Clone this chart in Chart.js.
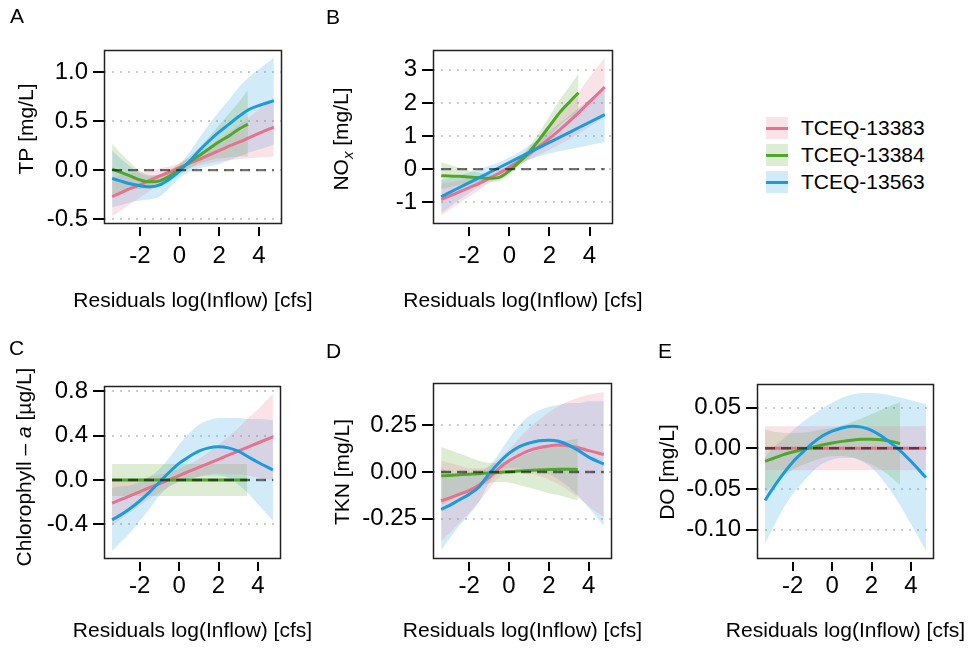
<!DOCTYPE html>
<html><head><meta charset="utf-8">
<script src="https://cdn.jsdelivr.net/npm/chart.js@4.4.1/dist/chart.umd.min.js"></script>
<style>
html,body{margin:0;padding:0;background:#fff;}
body{width:971px;height:651px;position:relative;overflow:hidden;font-family:"Liberation Sans",Arial,Helvetica,sans-serif;color:#000;}
canvas{position:absolute;}
.plab{position:absolute;font-size:21px;line-height:21px;}
.leg{position:absolute;left:766px;height:22px;}
.key{position:absolute;left:0;top:0;width:22px;height:22px;}
.key i{position:absolute;left:0;top:9.5px;width:22px;height:3px;}
.lt{position:absolute;left:35px;top:0;font-size:21px;line-height:22px;white-space:nowrap;}
</style></head><body>
<canvas id="cA" width="330" height="325" style="left:0;top:0"></canvas>
<canvas id="cB" width="325" height="325" style="left:330px;top:0"></canvas>
<canvas id="cC" width="330" height="321" style="left:0;top:330px"></canvas>
<canvas id="cD" width="325" height="321" style="left:330px;top:330px"></canvas>
<canvas id="cE" width="321" height="321" style="left:650px;top:330px"></canvas>
<div class="plab" style="left:10px;top:5px">A</div>
<div class="plab" style="left:326px;top:6px">B</div>
<div class="plab" style="left:9px;top:337px">C</div>
<div class="plab" style="left:326px;top:340px">D</div>
<div class="plab" style="left:658px;top:340px">E</div>
<div id="legend"></div>
<script>
// ---------- data ----------
const seriesNames = ['TCEQ-13383', 'TCEQ-13384', 'TCEQ-13563'];
const xFull  = [-3.4,-3,-2.5,-2,-1.5,-1,-0.5,0,0.5,1,1.5,2,2.5,3,3.5,4,4.76];
const xShort = [-3.4,-3,-2.5,-2,-1.5,-1,-0.5,0,0.5,1,1.5,2,2.5,3,3.45];
const zeroX = [-3.4, 4.76];
const xTicks = [-2, 0, 2, 4];
const xTickLabels = ['-2', '0', '2', '4'];
const xTitle = 'Residuals log(Inflow) [cfs]';

// A: TP
const tpTicks = [-0.5, 0.0, 0.5, 1.0];
const tp13383   = [-0.27,-0.235,-0.19,-0.15,-0.105,-0.06,-0.02,0.025,0.07,0.11,0.155,0.2,0.245,0.285,0.33,0.375,0.44];
const tp13383Lo = [-0.47,-0.42,-0.35,-0.28,-0.21,-0.14,-0.08,-0.02,0.02,0.05,0.07,0.09,0.1,0.11,0.12,0.13,0.14];
const tp13383Hi = [-0.07,-0.05,-0.03,-0.02,0.0,0.02,0.04,0.07,0.12,0.17,0.24,0.31,0.39,0.46,0.54,0.62,0.74];
const tp13384   = [0.01,-0.02,-0.06,-0.1,-0.12,-0.11,-0.06,0.01,0.08,0.15,0.22,0.29,0.35,0.42,0.47];
const tp13384Lo = [-0.25,-0.22,-0.2,-0.19,-0.19,-0.17,-0.12,-0.05,0.02,0.07,0.1,0.12,0.13,0.14,0.14];
const tp13384Hi = [0.27,0.18,0.08,-0.01,-0.05,-0.05,0.0,0.07,0.14,0.23,0.34,0.46,0.58,0.7,0.82];
const tp13563   = [-0.085,-0.11,-0.14,-0.16,-0.17,-0.15,-0.09,-0.01,0.09,0.2,0.3,0.39,0.47,0.55,0.62,0.66,0.71];
const tp13563Lo = [-0.38,-0.36,-0.33,-0.31,-0.3,-0.27,-0.18,-0.08,-0.02,0.02,0.04,0.06,0.1,0.14,0.18,0.21,0.26];
const tp13563Hi = [0.2,0.12,0.04,-0.03,-0.06,-0.05,0.0,0.06,0.18,0.33,0.47,0.6,0.72,0.85,0.95,1.03,1.15];

// B: NOx
const noTicks = [-1, 0, 1, 2, 3];
const no13383   = [-0.92,-0.82,-0.69,-0.56,-0.43,-0.28,-0.12,0.06,0.25,0.46,0.69,0.93,1.18,1.45,1.73,2.03,2.48];
const no13383Lo = [-1.4,-1.24,-1.03,-0.83,-0.63,-0.42,-0.22,-0.04,0.13,0.29,0.44,0.59,0.74,0.91,1.09,1.28,1.59];
const no13383Hi = [-0.44,-0.4,-0.35,-0.29,-0.23,-0.14,-0.02,0.16,0.37,0.63,0.94,1.27,1.62,1.99,2.37,2.78,3.37];
const no13384   = [-0.2,-0.21,-0.22,-0.24,-0.26,-0.28,-0.25,-0.05,0.22,0.52,0.9,1.3,1.7,2.03,2.31];
const no13384Lo = [-0.61,-0.55,-0.48,-0.44,-0.41,-0.4,-0.35,-0.15,0.1,0.36,0.68,1.0,1.32,1.56,1.74];
const no13384Hi = [0.21,0.13,0.04,-0.04,-0.11,-0.16,-0.15,0.05,0.34,0.68,1.12,1.6,2.08,2.5,2.88];
const no13563   = [-0.834,-0.712,-0.56,-0.408,-0.256,-0.104,0.048,0.2,0.352,0.504,0.656,0.808,0.96,1.112,1.264,1.416,1.647];
const no13563Lo = [-1.33,-1.15,-0.93,-0.72,-0.51,-0.3,-0.11,0.05,0.18,0.29,0.39,0.47,0.54,0.6,0.66,0.73,0.82];
const no13563Hi = [-0.33,-0.27,-0.19,-0.1,0.0,0.1,0.21,0.35,0.52,0.71,0.93,1.15,1.38,1.62,1.86,2.11,2.48];

// C: Chlorophyll-a
const chlTicks = [-0.4, 0.0, 0.4, 0.8];
const chl13383   = [-0.21,-0.18,-0.144,-0.107,-0.07,-0.034,0.003,0.04,0.077,0.114,0.15,0.187,0.224,0.26,0.297,0.334,0.39];
const chl13383Lo = [-0.41,-0.36,-0.29,-0.23,-0.17,-0.11,-0.06,-0.02,0.01,0.03,0.05,0.06,0.05,0.05,0.04,0.02,0.0];
const chl13383Hi = [-0.01,0.0,0.01,0.01,0.03,0.05,0.07,0.1,0.14,0.19,0.25,0.32,0.39,0.47,0.56,0.64,0.78];
const chl13384   = [0,0,0,0,0,0,0,0,0,0,0,0,0,0,0];
const chl13384Lo = [-0.145,-0.145,-0.145,-0.145,-0.145,-0.145,-0.145,-0.145,-0.145,-0.145,-0.145,-0.145,-0.145,-0.145,-0.145];
const chl13384Hi = [0.145,0.145,0.145,0.145,0.145,0.145,0.145,0.145,0.145,0.145,0.145,0.145,0.145,0.145,0.145];
const chl13563   = [-0.36,-0.32,-0.26,-0.19,-0.11,-0.02,0.07,0.15,0.21,0.26,0.29,0.3,0.29,0.26,0.21,0.16,0.09];
const chl13563Lo = [-0.64,-0.57,-0.48,-0.37,-0.26,-0.14,-0.06,-0.01,0.01,0.03,0.04,0.04,0.02,-0.04,-0.12,-0.22,-0.37];
const chl13563Hi = [-0.07,-0.06,-0.05,-0.02,0.03,0.1,0.2,0.32,0.42,0.5,0.54,0.56,0.56,0.56,0.55,0.55,0.54];

// D: TKN
const tknTicks = [-0.25, 0.0, 0.25];
const tkn13383   = [-0.155,-0.14,-0.12,-0.1,-0.07,-0.03,0.02,0.06,0.09,0.115,0.13,0.14,0.145,0.14,0.13,0.115,0.094];
const tkn13383Lo = [-0.37,-0.33,-0.275,-0.22,-0.16,-0.09,-0.03,0.0,0.0,-0.005,-0.02,-0.04,-0.065,-0.1,-0.14,-0.185,-0.242];
const tkn13383Hi = [0.06,0.05,0.035,0.02,0.02,0.03,0.07,0.12,0.18,0.235,0.28,0.32,0.355,0.38,0.4,0.415,0.43];
const tkn13384   = [-0.02,-0.018,-0.015,-0.012,-0.009,-0.005,-0.002,0.002,0.005,0.008,0.011,0.013,0.015,0.015,0.014];
const tkn13384Lo = [-0.175,-0.156,-0.13,-0.104,-0.078,-0.06,-0.054,-0.056,-0.07,-0.084,-0.098,-0.114,-0.125,-0.14,-0.152];
const tkn13384Hi = [0.135,0.12,0.1,0.08,0.06,0.05,0.05,0.06,0.08,0.1,0.12,0.14,0.155,0.17,0.18];
const tkn13563   = [-0.2,-0.18,-0.15,-0.12,-0.08,-0.01,0.05,0.1,0.135,0.155,0.168,0.171,0.165,0.145,0.115,0.08,0.043];
const tkn13563Lo = [-0.42,-0.36,-0.29,-0.23,-0.16,-0.06,0.0,0.02,0.02,0.01,0.0,-0.01,-0.04,-0.08,-0.13,-0.19,-0.29];
const tkn13563Hi = [0.02,0.0,-0.01,-0.01,0.0,0.03,0.1,0.18,0.25,0.3,0.33,0.35,0.36,0.37,0.37,0.38,0.38];

// E: DO
const doTicks = [-0.10, -0.05, 0.0, 0.05];
const do13383   = [0,0,0,0,0,0,0,0,0,0,0,0,0,0,0,0,0];
const do13383Lo = [-0.027,-0.027,-0.027,-0.027,-0.027,-0.027,-0.027,-0.027,-0.027,-0.027,-0.027,-0.027,-0.027,-0.027,-0.027,-0.027,-0.027];
const do13383Hi = [0.027,0.027,0.027,0.027,0.027,0.027,0.027,0.027,0.027,0.027,0.027,0.027,0.027,0.027,0.027,0.027,0.027];
const do13384   = [-0.016,-0.0125,-0.008,-0.0045,-0.0015,0.001,0.004,0.0065,0.0085,0.01,0.011,0.0112,0.0105,0.0085,0.0057];
const do13384Lo = [-0.055,-0.0455,-0.035,-0.0265,-0.0205,-0.016,-0.012,-0.0095,-0.0095,-0.011,-0.015,-0.0198,-0.0265,-0.0355,-0.0453];
const do13384Hi = [0.023,0.0205,0.019,0.0185,0.019,0.021,0.023,0.025,0.028,0.032,0.037,0.0422,0.0475,0.0525,0.0567];
const do13563   = [-0.064,-0.049,-0.032,-0.017,-0.005,0.006,0.015,0.021,0.025,0.027,0.026,0.022,0.015,0.006,-0.004,-0.016,-0.036];
const do13563Lo = [-0.117,-0.098,-0.075,-0.056,-0.042,-0.029,-0.019,-0.014,-0.012,-0.012,-0.016,-0.024,-0.037,-0.053,-0.072,-0.093,-0.126];
const do13563Hi = [-0.011,0.0,0.011,0.022,0.032,0.041,0.049,0.056,0.062,0.066,0.068,0.068,0.067,0.065,0.062,0.059,0.054];

// ---------- style ----------
const FONT = '"Liberation Sans", Arial, Helvetica, sans-serif';
const TICK_SIZE = 24;
const lineColors = ['#E8718D', '#4FA62A', '#1A9BDF'];
function rgba(hex, a) { const n = parseInt(hex.slice(1), 16); return `rgba(${(n>>16)&255},${(n>>8)&255},${n&255},${a})`; }
function pts(xs, ys) { return xs.map((x, i) => ({x: x, y: ys[i]})); }

// legend (HTML)
const leg = document.getElementById('legend');
seriesNames.forEach((name, k) => {
  const d = document.createElement('div');
  d.className = 'leg';
  d.style.top = (117 + 27 * k) + 'px';
  d.innerHTML = `<span class="key" style="background:${rgba(lineColors[k],0.2)}"><i style="background:${lineColors[k]}"></i></span><span class="lt">${name}</span>`;
  leg.appendChild(d);
});

function drawYTitle(ctx, cx, cy, segs) {
  ctx.save();
  ctx.translate(cx, cy);
  ctx.rotate(-Math.PI / 2);
  ctx.textBaseline = 'alphabetic';
  ctx.textAlign = 'left';
  ctx.fillStyle = '#000';
  const fontOf = s => (s.it ? 'italic ' : '') + (s.sub ? '15px ' : '21px ') + FONT;
  let total = 0;
  segs.forEach(s => { ctx.font = fontOf(s); s.w = ctx.measureText(s.t).width; total += s.w; });
  let x = -total / 2;
  segs.forEach(s => { ctx.font = fontOf(s); ctx.fillText(s.t, x, 6 + (s.sub ? 5 : 0)); x += s.w; });
  ctx.restore();
}

function makePanel(p) {
  const canvas = document.getElementById(p.id);
  const W = canvas.width, H = canvas.height;
  const datasets = [];
  datasets.push({data: pts(zeroX, [0, 0]), borderColor: 'rgba(0,0,0,0.55)', borderDash: [10, 6], borderWidth: 2.4,
    pointRadius: 0, fill: false, order: 0});
  p.series.forEach((s, k) => {
    datasets.push({label: seriesNames[k], data: pts(s.x, s.y), borderColor: lineColors[k], borderWidth: 3,
      pointRadius: 0, fill: false, cubicInterpolationMode: 'monotone', order: 3 - k});
  });
  p.series.forEach((s, k) => {
    const loIdx = datasets.length;
    datasets.push({data: pts(s.x, s.lo), borderColor: 'rgba(0,0,0,0)', borderWidth: 0, pointRadius: 0,
      fill: false, cubicInterpolationMode: 'monotone', order: 10});
    datasets.push({data: pts(s.x, s.hi), borderColor: 'rgba(0,0,0,0)', borderWidth: 0, pointRadius: 0,
      fill: loIdx, backgroundColor: rgba(lineColors[k], 0.2), cubicInterpolationMode: 'monotone', order: 10});
  });
  const b = p.box;
  new Chart(canvas, {
    type: 'line',
    data: {datasets: datasets},
    options: {
      responsive: false, animation: false, devicePixelRatio: 1,
      layout: {padding: {left: 0, top: b.t, right: W - b.r, bottom: 0}},
      plugins: {legend: {display: false}, tooltip: {enabled: false}},
      scales: {
        x: {
          type: 'linear', min: -3.81, max: 5.17,
          afterBuildTicks: sc => { sc.ticks = xTicks.map(v => ({value: v})); },
          afterFit: sc => { sc.height = H - b.b; },
          ticks: {font: {size: TICK_SIZE, family: FONT}, color: '#000', padding: 256 - b.b - TICK_SIZE * 0.6, maxRotation: 0,
            callback: (v) => xTickLabels[xTicks.indexOf(v)]},
          grid: {display: false, drawTicks: false, drawOnChartArea: false},
          border: {display: false}
        },
        y: {
          type: 'linear', min: p.yMin, max: p.yMax,
          afterBuildTicks: sc => { sc.ticks = p.yTicks.map(v => ({value: v})); },
          afterFit: sc => { sc.width = b.l; },
          ticks: {font: {size: TICK_SIZE, family: FONT}, color: '#000', padding: 5,
            callback: v => v.toFixed(p.dec)},
          grid: {drawOnChartArea: true, drawTicks: true, tickLength: 11, tickWidth: 2, tickColor: '#000',
            color: '#cdcdcd', lineWidth: 2, tickBorderDash: []},
          border: {display: false, dash: [2, 6]}
        }
      }
    },
    plugins: [{
      id: 'deco' + p.id,
      afterDatasetsDraw(chart) {
        const ctx = chart.ctx, a = chart.chartArea, xs = chart.scales.x;
        ctx.save();
        ctx.strokeStyle = '#222'; ctx.lineWidth = 1.5;
        ctx.strokeRect(a.left + 0.5, a.top + 0.5, a.right - a.left - 1, a.bottom - a.top - 1);
        ctx.strokeStyle = '#000'; ctx.lineWidth = 2;
        xTicks.forEach(v => {
          const px = Math.round(xs.getPixelForValue(v));
          ctx.beginPath(); ctx.moveTo(px, a.bottom + 3); ctx.lineTo(px, a.bottom + 12); ctx.stroke();
        });
        ctx.restore();
      },
      afterDraw(chart) {
        const ctx = chart.ctx, a = chart.chartArea;
        ctx.save();
        ctx.font = '21px ' + FONT; ctx.fillStyle = '#000';
        ctx.textAlign = 'center'; ctx.textBaseline = 'middle';
        ctx.fillText(xTitle, (a.left + a.right) / 2, 301);
        ctx.restore();
        drawYTitle(ctx, p.yt[0] - p.L, p.yt[1] - p.T, p.ytSegs.map(s => Object.assign({}, s)));
      }
    }]
  });
}

makePanel({id: 'cA', L: 0, T: 0, box: {l: 104, r: 282, t: 50, b: 224}, yMin: -0.551, yMax: 1.228, yTicks: tpTicks, dec: 1,
  yt: [27, 129], ytSegs: [{t: 'TP [mg/L]'}],
  series: [{x: xFull, y: tp13383, lo: tp13383Lo, hi: tp13383Hi}, {x: xShort, y: tp13384, lo: tp13384Lo, hi: tp13384Hi}, {x: xFull, y: tp13563, lo: tp13563Lo, hi: tp13563Hi}]});
makePanel({id: 'cB', L: 330, T: 0, box: {l: 103, r: 283, t: 50, b: 224}, yMin: -1.66, yMax: 3.6, yTicks: noTicks, dec: 0,
  yt: [342, 139], ytSegs: [{t: 'NO'}, {t: 'x', sub: true, it: true}, {t: ' [mg/L]'}],
  series: [{x: xFull, y: no13383, lo: no13383Lo, hi: no13383Hi}, {x: xShort, y: no13384, lo: no13384Lo, hi: no13384Hi}, {x: xFull, y: no13563, lo: no13563Lo, hi: no13563Hi}]});
makePanel({id: 'cC', L: 0, T: 330, box: {l: 104, r: 281, t: 56, b: 229}, yMin: -0.714, yMax: 0.849, yTicks: chlTicks, dec: 1,
  yt: [25, 467], ytSegs: [{t: 'Chlorophyll \u2013 '}, {t: 'a', it: true}, {t: ' [\u00b5g/L]'}],
  series: [{x: xFull, y: chl13383, lo: chl13383Lo, hi: chl13383Hi}, {x: xShort, y: chl13384, lo: chl13384Lo, hi: chl13384Hi}, {x: xFull, y: chl13563, lo: chl13563Lo, hi: chl13563Hi}]});
makePanel({id: 'cD', L: 330, T: 330, box: {l: 103, r: 282, t: 53, b: 229}, yMin: -0.467, yMax: 0.478, yTicks: tknTicks, dec: 2,
  yt: [343, 472], ytSegs: [{t: 'TKN [mg/L]'}],
  series: [{x: xFull, y: tkn13383, lo: tkn13383Lo, hi: tkn13383Hi}, {x: xShort, y: tkn13384, lo: tkn13384Lo, hi: tkn13384Hi}, {x: xFull, y: tkn13563, lo: tkn13563Lo, hi: tkn13563Hi}]});
makePanel({id: 'cE', L: 650, T: 330, box: {l: 107, r: 284, t: 54, b: 229}, yMin: -0.136, yMax: 0.079, yTicks: doTicks, dec: 2,
  yt: [668, 472], ytSegs: [{t: 'DO [mg/L]'}],
  series: [{x: xFull, y: do13383, lo: do13383Lo, hi: do13383Hi}, {x: xShort, y: do13384, lo: do13384Lo, hi: do13384Hi}, {x: xFull, y: do13563, lo: do13563Lo, hi: do13563Hi}]});
</script>
</body></html>
